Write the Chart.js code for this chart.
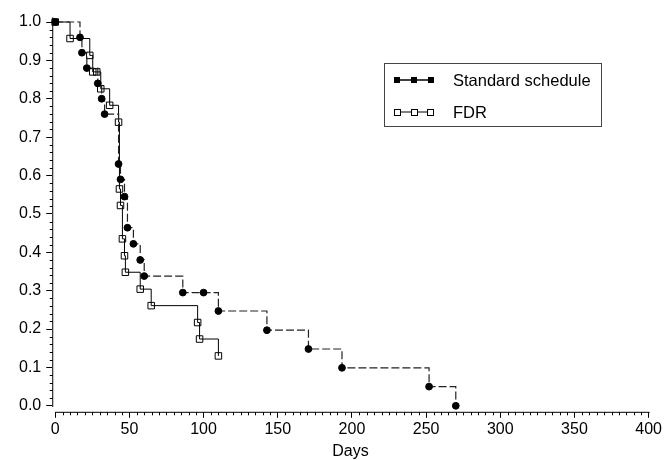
<!DOCTYPE html>
<html>
<head>
<meta charset="utf-8">
<script src="https://cdn.jsdelivr.net/npm/chart.js@4"></script>
<style>
  body { margin: 0; background: #fff; }
  #wrap { position: relative; width: 664px; height: 460px; }
  #legend {
    position: absolute; left: 384px; top: 63px; width: 216px; height: 62px;
    border: 1px solid #444; font-family: "Liberation Sans", Arial, sans-serif;
    font-size: 16.5px; color: #000;
  }
  .row { position: absolute; left: 9px; height: 20px; display: flex; align-items: center; }
  .row svg { margin-right: 19px; }
</style>
</head>
<body>
<div id="wrap">
  <canvas id="kmChart" width="664" height="460"></canvas>
  <div id="legend">
    <div class="row" style="top:6px">
      <svg width="40" height="10"><line x1="2" y1="5" x2="38" y2="5" stroke="#000" stroke-width="1.5"/>
        <rect x="0" y="2" width="6" height="6" fill="#000"/><rect x="17" y="2" width="6" height="6" fill="#000"/><rect x="34" y="2" width="6" height="6" fill="#000"/></svg>
      <span>Standard schedule</span>
    </div>
    <div class="row" style="top:38px">
      <svg width="40" height="10"><line x1="2" y1="5" x2="38" y2="5" stroke="#000" stroke-width="1"/>
        <rect x="0.5" y="2.5" width="6" height="6" fill="#fff" stroke="#000"/><rect x="17.5" y="2.5" width="6" height="6" fill="#fff" stroke="#000"/><rect x="33.5" y="2.5" width="6" height="6" fill="#fff" stroke="#000"/></svg>
      <span>FDR</span>
    </div>
  </div>
</div>
<script>
// Kaplan-Meier estimates
const stdDays = [0, 16.7, 18, 21.3, 28.7, 31.3, 33.3, 42.7, 44, 46.7, 48.7, 52.7, 57.3, 60, 86, 100, 110, 142.7, 170.7, 193.3, 252, 270];
const stdSurv = [1.0, 0.96, 0.92, 0.88, 0.84, 0.80, 0.76, 0.63, 0.59, 0.545, 0.464, 0.422, 0.38, 0.338, 0.295, 0.295, 0.247, 0.197, 0.148, 0.099, 0.05, 0];

const fdrDays = [0, 10, 23.3, 25.3, 28, 30.7, 36.7, 42.7, 43.3, 44, 45.3, 46.7, 47.3, 57.3, 64.7, 96, 97.3, 110];
const fdrSurv = [1.0, 0.957, 0.913, 0.870, 0.870, 0.826, 0.783, 0.739, 0.565, 0.522, 0.435, 0.391, 0.348, 0.304, 0.261, 0.217, 0.174, 0.130];

const xTicks = [0, 50, 100, 150, 200, 250, 300, 350, 400];
const yTicks = [0, 0.1, 0.2, 0.3, 0.4, 0.5, 0.6, 0.7, 0.8, 0.9, 1.0];

const toPoints = (xs, ys) => xs.map((x, i) => ({ x: x, y: ys[i] }));

// axis lines offset from each other, plus the minor ticks
const axisDecor = {
  id: "axisDecor",
  afterDraw(chart) {
    const { ctx, chartArea, scales: { x, y } } = chart;
    const b = chartArea.bottom + 0.5;
    const l = chartArea.left + 0.5;
    ctx.save();
    ctx.strokeStyle = "#000";
    ctx.lineWidth = 1;
    ctx.beginPath();
    ctx.moveTo(x.getPixelForValue(0), b);
    ctx.lineTo(x.getPixelForValue(400) + 1, b);
    ctx.moveTo(l, y.getPixelForValue(-0.003));
    ctx.lineTo(l, y.getPixelForValue(1.012));
    for (let v = 5; v < 400; v += 5) {
      if (v % 50 === 0) continue;
      const px = Math.round(x.getPixelForValue(v)) + 0.5;
      ctx.moveTo(px, b);
      ctx.lineTo(px, b + 3);
    }
    for (let i = 1; i < 50; i++) {
      if (i % 5 === 0) continue;
      const py = Math.round(y.getPixelForValue(i / 50)) + 0.5;
      ctx.moveTo(l, py);
      ctx.lineTo(l - 3, py);
    }
    ctx.stroke();
    ctx.restore();
  }
};

Chart.defaults.font.family = '"Liberation Sans", Arial, sans-serif';
Chart.defaults.color = "#000";

new Chart(document.getElementById("kmChart"), {
  type: "line",
  data: {
    datasets: [
      {
        label: "FDR",
        data: toPoints(fdrDays, fdrSurv),
        stepped: "before",
        borderColor: "#000",
        borderWidth: 1,
        pointStyle: "rect",
        pointRadius: 4.6,
        pointBackgroundColor: "rgba(0,0,0,0)",
        pointBorderColor: "#000",
        pointBorderWidth: 1,
        clip: false,
        order: 2
      },
      {
        label: "Standard schedule",
        data: toPoints(stdDays, stdSurv),
        stepped: "before",
        borderColor: "#222",
        borderWidth: 1.2,
        borderDash: [8, 3],
        pointStyle: "circle",
        pointRadius: 3.4,
        pointBackgroundColor: "#000",
        pointBorderColor: "#000",
        pointBorderWidth: 1,
        clip: false,
        order: 1
      }
    ]
  },
  options: {
    responsive: false,
    animation: false,
    devicePixelRatio: 1,
    layout: { padding: { left: 14, right: 0, top: 22, bottom: 0 } },
    plugins: { legend: { display: false }, tooltip: { enabled: false } },
    scales: {
      x: {
        type: "linear",
        min: -2,
        max: 400,
        afterBuildTicks: (scale) => { scale.ticks = xTicks.map(v => ({ value: v })); },
        ticks: { font: { size: 16 }, padding: 2, maxRotation: 0, callback: (v) => v },
        grid: { drawOnChartArea: false, tickLength: 6, tickColor: "#000" },
        border: { display: false },
        title: { display: true, text: "Days", font: { size: 16, lineHeight: 1 }, padding: { top: 3, bottom: 0 } }
      },
      y: {
        min: -0.0156,
        max: 1.0,
        afterBuildTicks: (scale) => { scale.ticks = yTicks.map(v => ({ value: v })); },
        ticks: { font: { size: 16 }, padding: 5, callback: (v) => v.toFixed(1) },
        grid: { drawOnChartArea: false, tickLength: 6, tickColor: "#000" },
        border: { display: false }
      }
    }
  },
  plugins: [axisDecor]
});
</script>
</body>
</html>
